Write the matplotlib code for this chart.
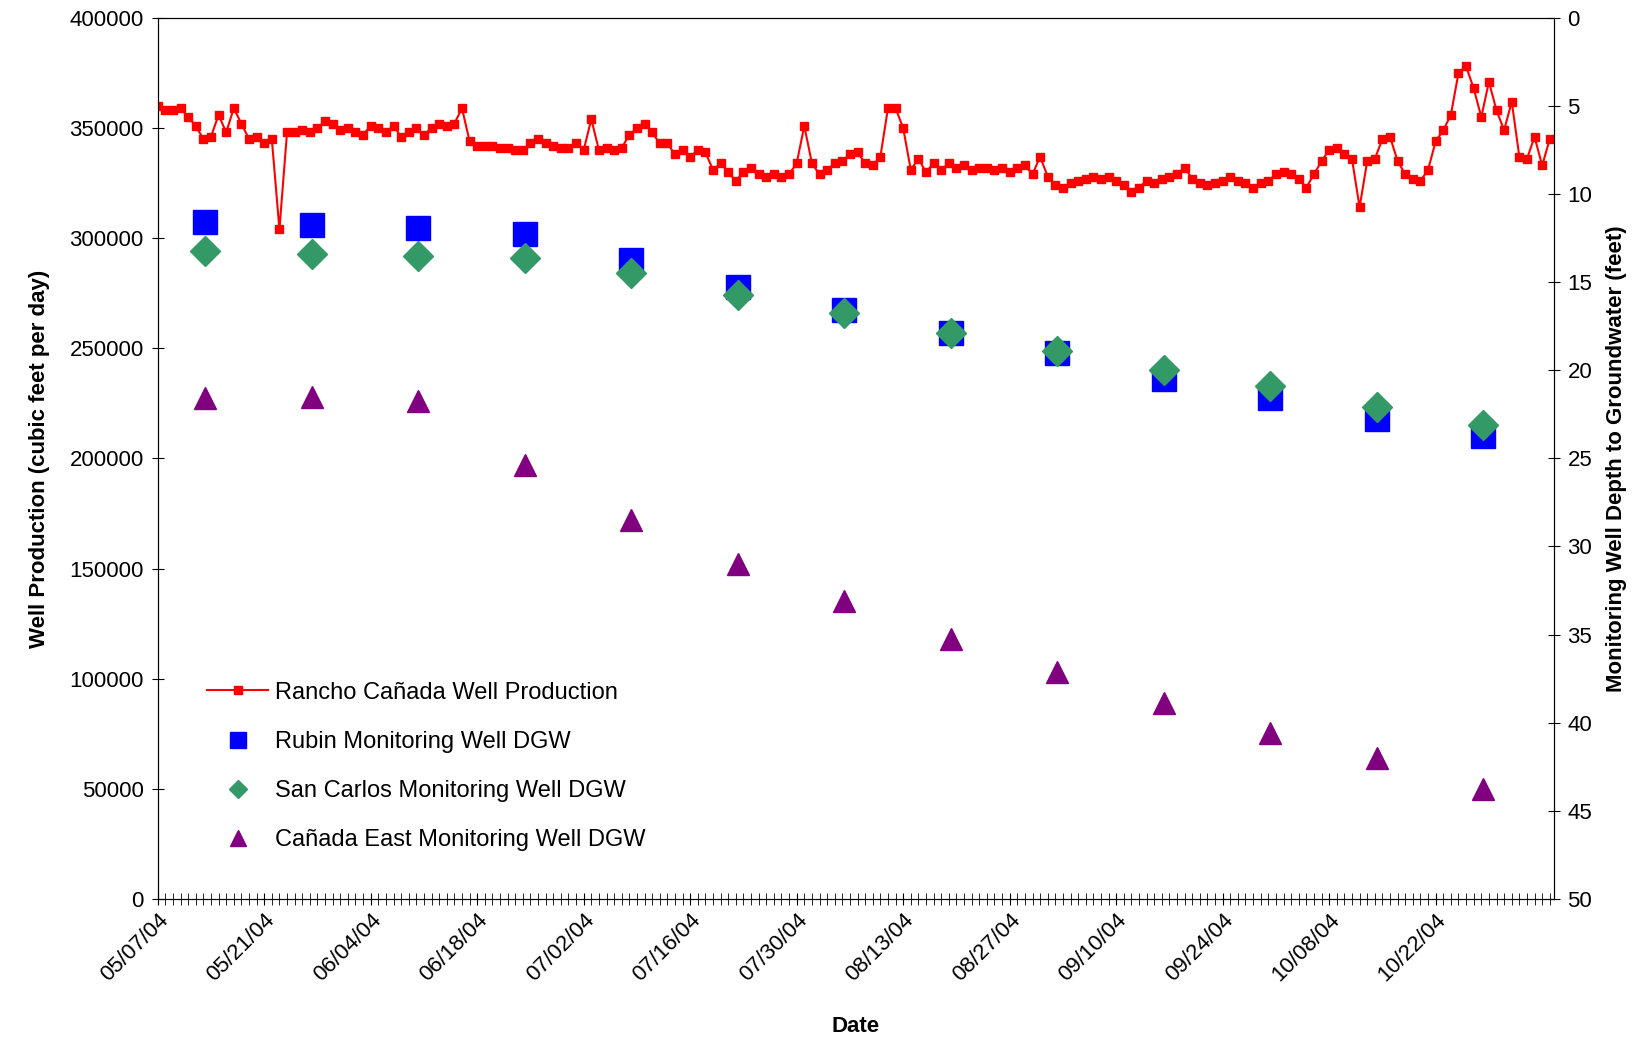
import matplotlib
matplotlib.use("Agg")
import matplotlib.pyplot as plt
import datetime as dt

production = [360,358,358,359,355,351,345,346,356,348,359,352,345,346,343,345,304,348,348,349,348,350,353,352,349,350,348,347,351,350,348,351,346,348,350,347,350,352,351,352,359,
344,342,342,342,341,341,340,340,343,345,343,342,341,341,343,340,354,340,341,340,341,347,350,352,348,343,343,338,340,337,340,339,331,334,330,326,330,332,329,328,329,328,329,334,351,
334,329,331,334,335,338,339,334,333,337,359,359,350,331,336,330,334,331,334,332,333,331,332,332,331,332,330,332,333,329,337,328,324,323,325,326,327,328,327,328,326,324,321,323,326,
325,327,328,329,332,327,325,324,325,326,328,326,325,323,325,326,329,330,329,327,323,329,335,340,341,338,336,314,335,336,345,346,335,329,327,326,331,344,349,356,375,378,368,355,371,358,349,362,337,336,346,333,345]
production = [v * 1000 for v in production]

mon_dates = ["05/13/04","05/27/04","06/10/04","06/24/04","07/08/04","07/22/04","08/05/04","08/19/04","09/02/04","09/16/04","09/30/04","10/14/04","10/28/04"]
rubin = [11.6,11.75,11.9,12.25,13.75,15.25,16.6,17.9,19.0,20.5,21.6,22.75,23.75]
san_carlos = [13.25,13.4,13.5,13.6,14.5,15.75,16.75,17.9,18.9,20.0,20.9,22.1,23.1]
canada_east = [21.6,21.5,21.75,25.4,28.5,31.0,33.1,35.25,37.1,38.9,40.6,42.0,43.75]
tick_labels = ["05/07/04","05/21/04","06/04/04","06/18/04","07/02/04","07/16/04","07/30/04","08/13/04","08/27/04","09/10/04","09/24/04","10/08/04","10/22/04"]

start = dt.datetime(2004,5,7)
pdates = [start + dt.timedelta(days=i) for i in range(len(production))]
mdts = [dt.datetime.strptime(s, "%m/%d/%y") + dt.timedelta(hours=6) for s in mon_dates]
tdts = [dt.datetime.strptime(s, "%m/%d/%y") for s in tick_labels]

plt.rcParams['font.family'] = ['Liberation Sans', 'DejaVu Sans']
fig = plt.figure(figsize=(16.48,10.55), dpi=100)
ax = fig.add_axes([0.0957,0.148,0.847,0.835])
ax2 = ax.twinx()

l1, = ax.plot(pdates, production, color='#ff0000', marker='s', markersize=6, lw=1.5, label='Rancho Cañada Well Production')
l2, = ax2.plot(mdts, rubin, 's', color='#0000ff', markersize=17, label='Rubin Monitoring Well DGW')
l3, = ax2.plot(mdts, san_carlos, 'D', color='#339966', markersize=15, label='San Carlos Monitoring Well DGW')
l4, = ax2.plot(mdts, canada_east, '^', color='#800080', markersize=16, label='Cañada East Monitoring Well DGW')

ax.set_ylim(0,400000)
ax.set_yticks(range(0,400001,50000))
ax2.set_ylim(50,0)
ax2.set_yticks(range(0,51,5))
ax.set_xlim(start, start + dt.timedelta(days=183.5))
ax.set_xticks(tdts)
ax.set_xticklabels(tick_labels)
ax.set_xticks([start + dt.timedelta(days=i) for i in range(184)], minor=True)
ax.tick_params(axis='x', which='both', direction='inout', length=8, labelsize=16)
ax.tick_params(axis='y', direction='inout', length=8, labelsize=16, pad=6)
ax2.tick_params(axis='y', direction='inout', length=8, labelsize=16, pad=6)
for lab in ax.get_xticklabels():
    lab.set_rotation(45); lab.set_ha('right'); lab.set_rotation_mode('anchor')
ax.set_ylabel('Well Production (cubic feet per day)', fontsize=16, fontweight='bold', labelpad=14)
ax2.set_ylabel('Monitoring Well Depth to Groundwater (feet)', fontsize=16, fontweight='bold', labelpad=10)
ax.set_xlabel('Date', fontsize=16, fontweight='bold', labelpad=22)
ax.legend([l1,l2,l3,l4], [l.get_label() for l in (l1,l2,l3,l4)], loc='lower left',
          bbox_to_anchor=(0.02,0.03), frameon=False, fontsize=17, handlelength=2.6,
          handletextpad=0.3, labelspacing=1.15)
leg = ax.get_legend()
for h, ms in zip(leg.legend_handles, [6,11,9,11]):
    h.set_markersize(ms)
fig.savefig('out.png', dpi=100)
